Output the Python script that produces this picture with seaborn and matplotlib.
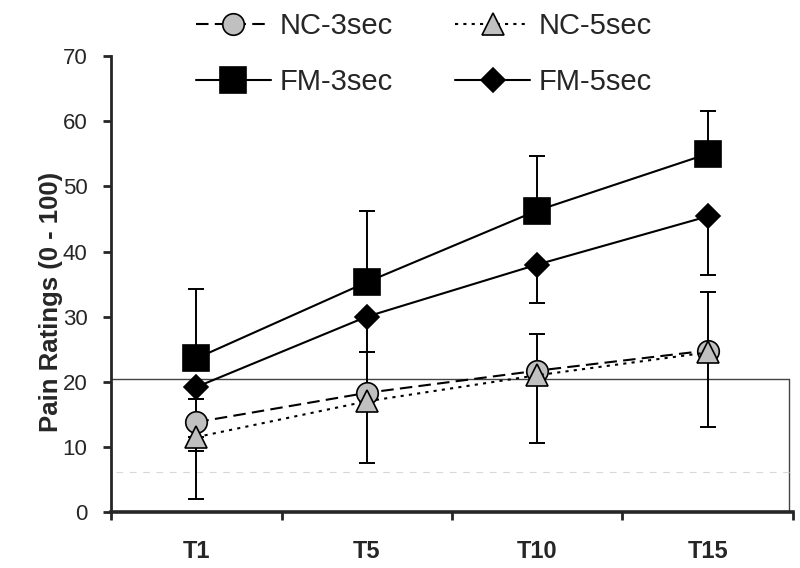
import seaborn as sns
import matplotlib.pyplot as plt
import pandas as pd
import numpy as np

times = ["T1", "T5", "T10", "T15"]

fm3 = [23.6, 35.3, 46.3, 55.0]
fm3_up = [10.6, 11.0, 8.4, 6.6]

fm5 = [19.2, 30.0, 38.0, 45.4]
fm5_down = [1.9, 5.4, 5.9, 9.0]

nc3 = [13.8, 18.3, 21.7, 24.8]
nc3_up = [3.5, 6.3, 5.6, 9.0]
nc3_down = [4.4, 0.0, 0.0, 0.0]

nc5 = [11.5, 17.0, 21.0, 24.5]
nc5_down = [9.5, 9.5, 10.4, 11.4]

sns.set_style("ticks")
plt.rcParams["font.family"] = ["Liberation Sans", "DejaVu Sans"]

df = pd.DataFrame({
    "time": times * 4,
    "pos": list(np.arange(len(times)) + 0.5) * 4,
    "group": ["NC-3sec"] * 4 + ["NC-5sec"] * 4 + ["FM-3sec"] * 4 + ["FM-5sec"] * 4,
    "rating": nc3 + nc5 + fm3 + fm5,
})

fig = plt.figure(figsize=(8, 5.68), dpi=100)
ax = fig.add_axes([0.139, 0.0986, 0.852, 0.8024])

# odd box left over in the source figure
ax.plot([0, 3.975], [20.4, 20.4], color="#444444", lw=1.0, zorder=1)
ax.plot([3.975, 3.975], [0, 20.4], color="#444444", lw=1.0, zorder=1)
ax.plot([0.03, 3.975], [6.2, 6.2], color="#d8d8d8", lw=0.8, ls=(0, (6, 6)), zorder=1)

pos = np.arange(len(times)) + 0.5
ebar = dict(fmt="none", ecolor="black", elinewidth=1.4, capsize=6, capthick=1.4, zorder=2)
ax.errorbar(pos, fm3, yerr=[np.zeros(4), fm3_up], **ebar)
ax.errorbar(pos, fm5, yerr=[fm5_down, np.zeros(4)], **ebar)
ax.errorbar(pos, nc3, yerr=[nc3_down, nc3_up], **ebar)
ax.errorbar(pos, nc5, yerr=[nc5_down, np.zeros(4)], **ebar)

styles = {
    "NC-3sec": dict(marker="o", markersize=15.5, markerfacecolor="#c0c0c0", dashes=(6, 3), zorder=4),
    "NC-5sec": dict(marker="^", markersize=16, markerfacecolor="#c0c0c0", dashes=(1.5, 2.5), zorder=4),
    "FM-3sec": dict(marker="s", markersize=19, markerfacecolor="black", dashes=(None, None), zorder=5),
    "FM-5sec": dict(marker="D", markersize=12, markerfacecolor="black", dashes=(None, None), zorder=5),
}

for name, st in styles.items():
    sub = df[df["group"] == name]
    st = dict(st)
    dash = st.pop("dashes")
    sns.lineplot(data=sub, x="pos", y="rating", ax=ax, color="black",
                 lw=1.5, markeredgecolor="black", markeredgewidth=1.2,
                 label=name, legend=False, **st)
    if dash[0] is not None:
        ax.lines[-1].set_dashes(dash)

ax.set_xlim(0, 4)
ax.set_ylim(0, 70)
ax.set_xticks([0, 1, 2, 3, 4])
ax.set_xticklabels([])
ax.set_xticks(pos, minor=True)
ax.set_xticklabels(times, minor=True, fontsize=17, fontweight="bold")
ax.tick_params(axis="x", which="minor", length=0, pad=20)
ax.tick_params(axis="x", which="major", length=6, width=2, direction="out")
ax.set_yticks(range(0, 71, 10))
ax.tick_params(axis="y", labelsize=16, length=6, width=2, direction="out", pad=11)
ax.set_xlabel("")
ax.set_ylabel("Pain Ratings (0 - 100)", fontsize=18.5, fontweight="bold")
ax.yaxis.set_label_coords(-0.071, 0.46)

sns.despine(ax=ax)
ax.spines["left"].set_linewidth(2)
ax.spines["bottom"].set_linewidth(2.6)

handles, labels = ax.get_legend_handles_labels()
order = [0, 2, 1, 3]
fig.legend([handles[i] for i in order], [labels[i] for i in order],
           loc="upper center", bbox_to_anchor=(0.53, 1.025),
           ncol=2, frameon=False, fontsize=21, handlelength=2.55, handletextpad=0.3,
           columnspacing=2.15, labelspacing=0.95)

fig.savefig("out.png", dpi=100)
